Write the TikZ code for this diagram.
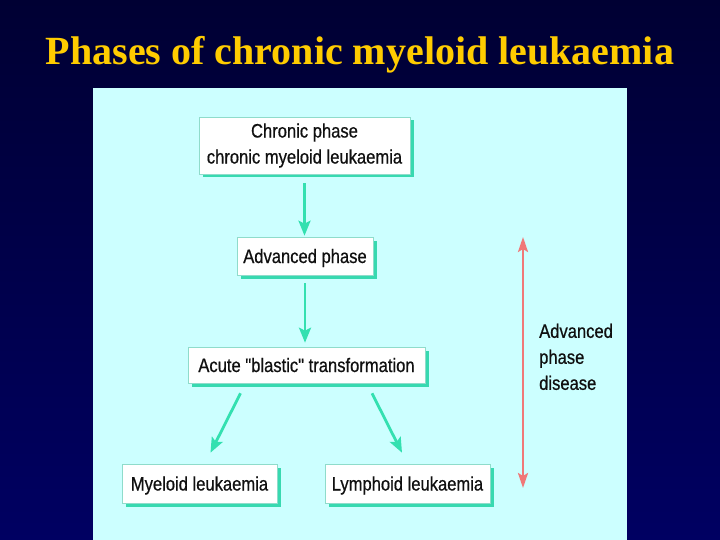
\documentclass[tikz,border=0pt]{standalone}
\usepackage{fontspec}
\setmainfont{Liberation Serif}
\newfontfamily\boxfont[FakeStretch=0.85,FakeBold=0.6]{Liberation Sans}
\usetikzlibrary{arrows.meta,shadows}
\definecolor{bgtop}{HTML}{000033}
\definecolor{bgbot}{HTML}{000062}
\definecolor{panel}{HTML}{CCFFFF}
\definecolor{tealc}{HTML}{33E0B0}
\definecolor{shadowc}{HTML}{38D9B0}
\definecolor{borderc}{HTML}{8FDCCB}
\definecolor{redc}{HTML}{F07878}
\definecolor{titlec}{HTML}{FFCC00}
\definecolor{txt}{HTML}{101010}
\tikzset{
  box/.style={draw=borderc, line width=0.6pt, fill=white, inner sep=0pt,
    font=\boxfont\fontsize{19.5}{26}\selectfont, text=txt,
    drop shadow={shadow xshift=3.5pt, shadow yshift=-3.5pt, fill=shadowc, opacity=1}},
  ta/.style={draw=tealc, line width=2.8pt, -{Stealth[length=15pt,width=12pt,inset=3pt]}},
  ra/.style={draw=redc, line width=2.4pt, {Stealth[length=15pt,width=10pt,inset=3pt]}-{Stealth[length=15pt,width=10pt,inset=3pt]}},
  lbl/.style={font=\boxfont\fontsize{19.5}{26}\selectfont, text=txt, inner sep=0pt}
}
\begin{document}
\begin{tikzpicture}[x=1pt,y=1pt]
\useasboundingbox (0,0) rectangle (720,-540);
\shade[top color=bgtop, bottom color=bgbot] (0,0) rectangle (720,-540);
\fill[panel] (93,-88) rectangle (627,-540);
\node[font=\bfseries\fontsize{40}{48}\selectfont, text=titlec, anchor=base, inner sep=0pt] (title) at (360,-65) {Phases of chronic myeloid leukaemia};
\node[box, minimum width=211pt, minimum height=57pt, align=center] (b1) at (304.5,-145.5) {Chronic phase\\chronic myeloid leukaemia};
\node[box, minimum width=136pt, minimum height=38pt, text height=16pt, text depth=2pt] (b2) at (305,-256) {Advanced phase};
\node[box, minimum width=237pt, minimum height=36pt, text height=16pt, text depth=2pt] (b3) at (306.5,-365) {Acute "blastic" transformation};
\node[box, minimum width=155pt, minimum height=39pt, text height=16pt, text depth=2pt] (b4) at (199.5,-483.5) {Myeloid leukaemia};
\node[box, minimum width=165pt, minimum height=39pt, text height=16pt, text depth=2pt] (b5) at (407.5,-483.5) {Lymphoid leukaemia};
\draw[ta, shorten <=9pt, shorten >=1pt] (b1.south) -- (b1.south |- b2.north);
\draw[ta, shorten <=8pt, shorten >=4pt] (b2.south) -- (b2.south |- b3.north);
\draw[ta] ([xshift=-66pt,yshift=-10pt]b3.south) -- ([xshift=11pt,yshift=11pt]b4.north);
\draw[ta] ([xshift=65.5pt,yshift=-10pt]b3.south) -- ([xshift=-5.5pt,yshift=11pt]b5.north);
\coordinate (rtop) at (523,-237);
\coordinate (rbot) at (523,-488);
\draw[ra] (rtop) -- (rbot);
\node[lbl, anchor=north west, align=left] (adv) at (539,-323.5) {Advanced\\phase\\disease};
\end{tikzpicture}
\end{document}
